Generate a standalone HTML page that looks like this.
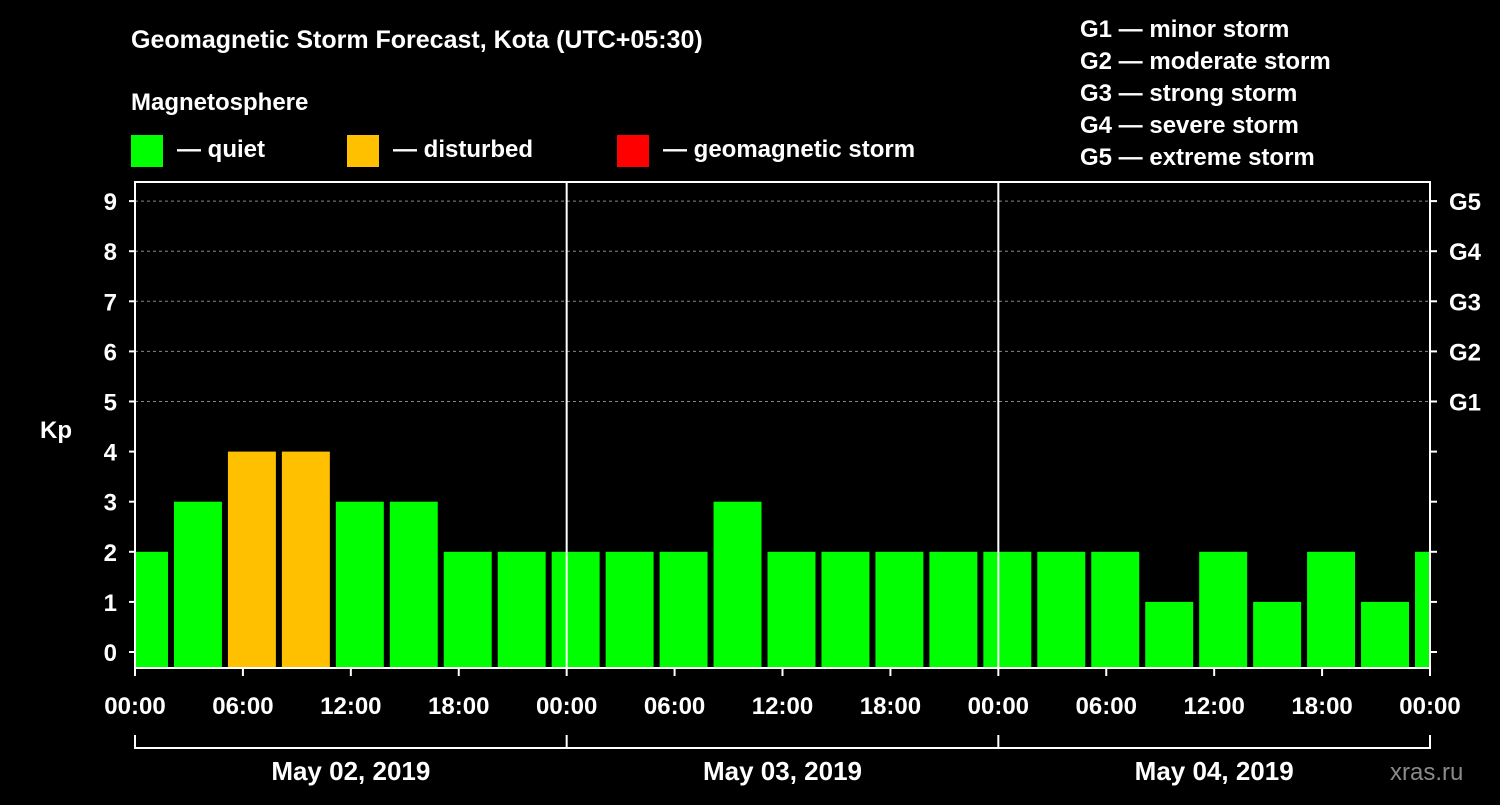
<!DOCTYPE html>
<html><head><meta charset="utf-8"><style>
body{margin:0;background:#000;}
svg text{font-family:"Liberation Sans",sans-serif;font-weight:bold;fill:#fff;}
</style></head><body>
<svg id="c" width="1500" height="800" xmlns="http://www.w3.org/2000/svg">
<rect width="1500" height="800" fill="#000"/>
<text x="131" y="48" font-size="25">Geomagnetic Storm Forecast, Kota (UTC+05:30)</text>
<text x="131" y="110" font-size="24">Magnetosphere</text>
<rect x="131" y="135" width="32" height="32" fill="#00ff00"/>
<text x="177" y="157" font-size="24">— quiet</text>
<rect x="347" y="135" width="32" height="32" fill="#ffc000"/>
<text x="393" y="157" font-size="24">— disturbed</text>
<rect x="617" y="135" width="32" height="32" fill="#ff0000"/>
<text x="663" y="157" font-size="24">— geomagnetic storm</text>
<g font-size="24">
<text x="1080" y="37">G1 — minor storm</text>
<text x="1080" y="69">G2 — moderate storm</text>
<text x="1080" y="101">G3 — strong storm</text>
<text x="1080" y="133">G4 — severe storm</text>
<text x="1080" y="165">G5 — extreme storm</text>
</g>
<text x="40" y="438" font-size="24">Kp</text>
<text x="1390" y="780" font-size="24" fill="#888" style="fill:#8a8a8a;font-weight:normal">xras.ru</text>
<g id="plot"></g>
</svg>
<script>
const kpValues=[2,3,4,4,3,3,2,2,2,2,2,3,2,2,2,2,2,2,2,1,2,1,2,1,2];
const yTicks=[0,1,2,3,4,5,6,7,8,9];
const gLabels=["G1","G2","G3","G4","G5"];
const xTickLabels=["00:00","06:00","12:00","18:00","00:00","06:00","12:00","18:00","00:00","06:00","12:00","18:00","00:00"];
const dayLabels=["May 02, 2019","May 03, 2019","May 04, 2019"];
const X0=135,X1=1430,TOP=182,BOT=668;
const xh=h=>X0+h*(X1-X0)/72;
const yk=k=>652-k*50.1;
const NS="http://www.w3.org/2000/svg";
const g=document.getElementById('plot');
function mk(t,a){const e=document.createElementNS(NS,t);for(const k in a)e.setAttribute(k,a[k]);g.appendChild(e);return e;}
// grid
[5,6,7,8,9].forEach(k=>{const l=mk('line',{x1:X0,x2:X1,y1:yk(k),y2:yk(k),stroke:'#888','stroke-dasharray':'3,3','stroke-width':1});

});
// bars
kpValues.forEach((v,i)=>{let s=xh(-1+i*3)+3,e=xh(2+i*3)-3;s=Math.max(s,X0+1);e=Math.min(e,X1-1);
const r=mk('rect',{x:s,y:yk(v),width:e-s,height:BOT-yk(v),fill:v>=5?'#ff0000':(v>=4?'#ffc000':'#00ff00')});

});
// day separators
[24,48].forEach(h=>{const l=mk('line',{x1:xh(h),x2:xh(h),y1:TOP,y2:BOT,stroke:'#fff','stroke-width':2});

});
const fr=mk('rect',{x:X0,y:TOP,width:X1-X0,height:BOT-TOP,fill:'none',stroke:'#fff','stroke-width':2});


yTicks.forEach(k=>{const y=yk(k);
mk('line',{x1:X0-6,x2:X0,y1:y,y2:y,stroke:'#fff','stroke-width':2});
mk('line',{x1:X1,x2:X1+7,y1:y,y2:y,stroke:'#fff','stroke-width':2});
const t=mk('text',{x:117,y:y+9,'font-size':24,'text-anchor':'end'});t.textContent=k;

});
gLabels.forEach((s,i)=>{const t=mk('text',{x:1449,y:yk(5+i)+9,'font-size':24});t.textContent=s;

});
xTickLabels.forEach((s,i)=>{const x=xh(i*6);
mk('line',{x1:x,x2:x,y1:BOT,y2:BOT+8,stroke:'#fff','stroke-width':2});
const t=mk('text',{x:x,y:714,'font-size':24,'text-anchor':'middle'});t.textContent=s;

});
mk('line',{x1:X0,x2:X1,y1:748,y2:748,stroke:'#fff','stroke-width':2});
[0,24,48,72].forEach(h=>mk('line',{x1:xh(h),x2:xh(h),y1:735,y2:749,stroke:'#fff','stroke-width':2}));
dayLabels.forEach((s,i)=>{const t=mk('text',{x:xh(12+24*i),y:780,'font-size':26,'text-anchor':'middle'});t.textContent=s;

});
</script>
</body></html>
